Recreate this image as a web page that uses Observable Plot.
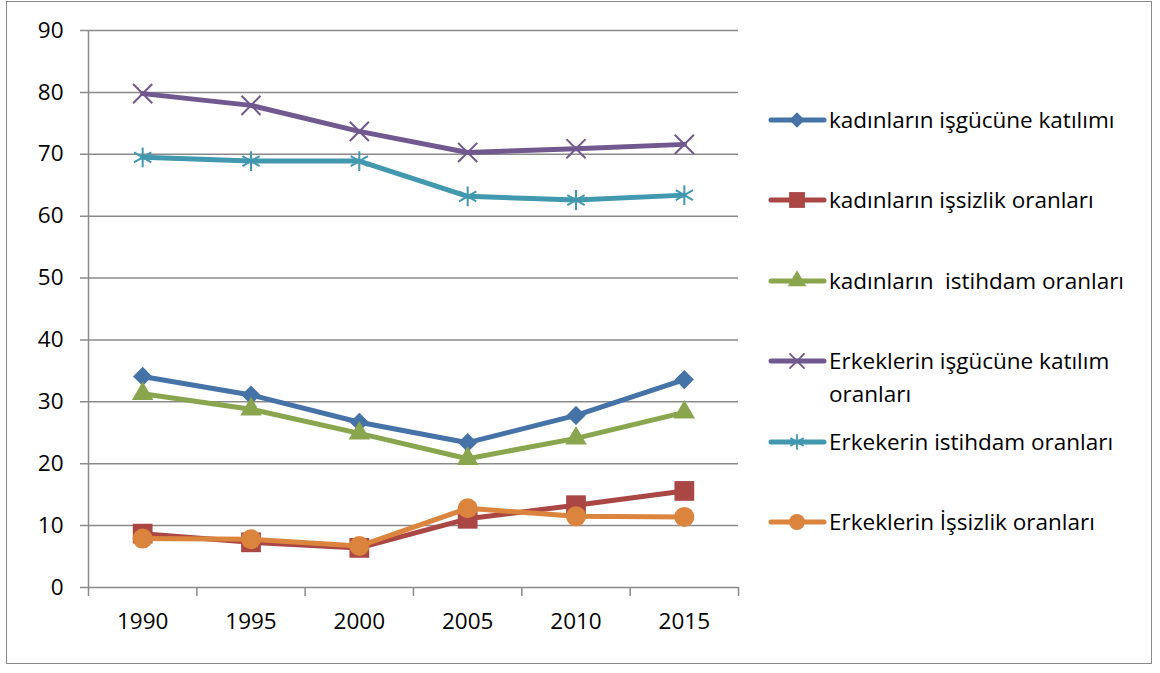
<!DOCTYPE html>
<html>
<head>
<meta charset="utf-8">
<script src="https://cdn.jsdelivr.net/npm/d3@7"></script>
<script src="https://cdn.jsdelivr.net/npm/@observablehq/plot@0.6"></script>
<style>
  html, body { margin: 0; padding: 0; background: #fff; }
  #wrap { position: relative; width: 1160px; height: 673px; overflow: hidden; font-family: "Open Sans", Lato, sans-serif; }
  #border { position: absolute; left: 6px; top: 1px; width: 1146px; height: 663px; border: 1.5px solid #8a8a8a; box-sizing: border-box; }
  #chart { position: absolute; left: 0; top: 0; }
  #legend { position: absolute; left: 760px; top: 90px; }
</style>
</head>
<body>
<div id="wrap">
  <div id="border"></div>
  <div id="chart"></div>
  <svg id="legend" width="400" height="470"></svg>
</div>
<script>
// ---- data ----
const years = [1990, 1995, 2000, 2005, 2010, 2015];
const seriesNames = [
  "kadınların işgücüne katılımı",
  "kadınların işsizlik oranları",
  "kadınların  istihdam oranları",
  "Erkeklerin işgücüne katılım oranları",
  "Erkekerin istihdam oranları",
  "Erkeklerin İşsizlik oranları"
];
const kadinIsgucu   = [34.1, 31.1, 26.7, 23.4, 27.8, 33.6];
const kadinIssizlik = [8.7, 7.3, 6.4, 11.1, 13.3, 15.6];
const kadinIstihdam = [31.3, 28.8, 24.9, 20.8, 24.1, 28.3];
const erkekIsgucu   = [79.8, 77.9, 73.7, 70.3, 70.9, 71.6];
const erkekIstihdam = [69.5, 68.9, 68.9, 63.2, 62.6, 63.4];
const erkekIssizlik = [7.9, 7.8, 6.7, 12.8, 11.5, 11.4];
const yTicks = [0, 10, 20, 30, 40, 50, 60, 70, 80, 90];
const xBoundaries = [1987.5, 1992.5, 1997.5, 2002.5, 2007.5, 2012.5, 2017.5];

const colors  = ["#4572A7", "#AA4643", "#89A54E", "#71588F", "#4198AF", "#DB843D"];
const symbols = ["diamond2", "square", "triangle", "times", "asterisk", "circle"];
const filled  = [true, true, true, false, false, true];
const allValues = [kadinIsgucu, kadinIssizlik, kadinIstihdam, erkekIsgucu, erkekIstihdam, erkekIssizlik];

const rows = [];
allValues.forEach((vals, s) => vals.forEach((v, i) => rows.push({series: seriesNames[s], s, year: years[i], value: v})));

// symbol path generator sized for marker box
const symMap = {diamond2: d3.symbolDiamond2, square: d3.symbolSquare, triangle: d3.symbolTriangle, times: d3.symbolTimes, asterisk: d3.symbolAsterisk, circle: d3.symbolCircle};
const symSize = [235, 390, 200, 240, 280, 315];
const customSymbols = symbols.map((name, s) => ({draw(ctx) { symMap[name].draw(ctx, symSize[s]); }}));

const FONT = "'Open Sans', Lato, sans-serif";
const FS = 22.5;
const gray = "#8a8a8a";
const marks = [
  Plot.ruleY(yTicks, {y: d => d, stroke: gray, strokeWidth: 1.5, insetLeft: -8}),
  Plot.ruleX([xBoundaries[0]], {x: d => d, stroke: gray, strokeWidth: 1.5}),
  Plot.ruleX(xBoundaries, {x: d => d, y1: 0, y2: 0, insetBottom: -9, stroke: gray, strokeWidth: 1.5}),
  Plot.text(yTicks, {y: d => d, text: d => String(d), frameAnchor: "left", dx: -25, textAnchor: "end", lineAnchor: "middle", fontSize: FS, fill: "#000"}),
  Plot.text(years, {x: d => d, text: d => String(d), frameAnchor: "bottom", dy: 34, lineAnchor: "middle", fontSize: FS, fill: "#000"})
];
seriesNames.forEach((name, s) => {
  const data = rows.filter(r => r.s === s);
  marks.push(Plot.line(data, {x: "year", y: "value", stroke: colors[s], strokeWidth: 5, strokeLinejoin: "round", strokeLinecap: "round"}));
  marks.push(Plot.dot(data, filled[s]
    ? {x: "year", y: "value", symbol: customSymbols[s], fill: colors[s], stroke: "none"}
    : {x: "year", y: "value", symbol: customSymbols[s], fill: "none", stroke: colors[s], strokeWidth: 2}));
});

const chart = Plot.plot({
  width: 1160,
  height: 673,
  marginLeft: 88,
  marginRight: 422,
  marginTop: 30,
  marginBottom: 86,
  style: {fontFamily: FONT, background: "transparent", overflow: "visible"},
  x: {type: "linear", domain: [1987.5, 2017.5], axis: null},
  y: {domain: [0, 90], axis: null},
  marks
});
document.getElementById("chart").appendChild(chart);

// ---- legend ----
const leg = d3.select("#legend");
const legendY = [30, 110, 191, 271, 352, 432];
const legendLines = [
  ["kadınların işgücüne katılımı"],
  ["kadınların işsizlik oranları"],
  ["kadınların  istihdam oranları"],
  ["Erkeklerin işgücüne katılım", "oranları"],
  ["Erkekerin istihdam oranları"],
  ["Erkeklerin İşsizlik oranları"]
];
const legSize = [150, 250, 150, 150, 170, 200];
seriesNames.forEach((name, s) => {
  const g = leg.append("g").attr("transform", `translate(0,${legendY[s]})`);
  g.append("line").attr("x1", 11).attr("x2", 64).attr("y1", 0).attr("y2", 0)
    .attr("stroke", colors[s]).attr("stroke-width", 5).attr("stroke-linecap", "round");
  const p = g.append("path").attr("transform", "translate(37,0)")
    .attr("d", d3.symbol(symMap[symbols[s]], legSize[s])());
  if (filled[s]) p.attr("fill", colors[s]); else p.attr("fill", "none").attr("stroke", colors[s]).attr("stroke-width", 1.8);
  const t = g.append("text").attr("x", 69).attr("y", 0).attr("font-size", FS)
    .attr("font-family", FONT).attr("fill", "#000").style("white-space", "pre");
  legendLines[s].forEach((ln, i) => t.append("tspan").attr("x", 69).attr("y", i * 33).attr("dy", "0.35em").text(ln));
});
</script>
</body>
</html>
